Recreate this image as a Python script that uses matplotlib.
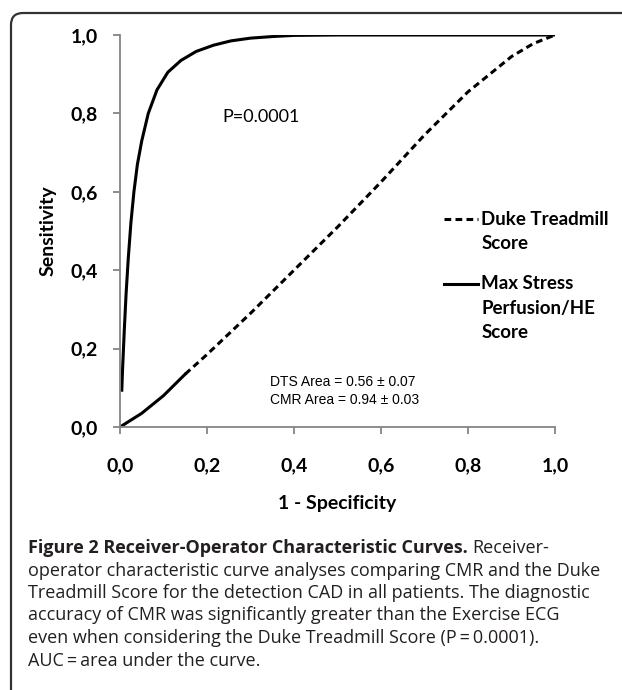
import matplotlib
matplotlib.use("Agg")
import matplotlib.pyplot as plt
from matplotlib.patches import FancyBboxPatch
from matplotlib.lines import Line2D

# CMR (Max Stress Perfusion/HE Score) ROC curve
cmr_fpr = [0.004, 0.006, 0.010, 0.014, 0.019, 0.025, 0.032, 0.040, 0.050, 0.065,
           0.085, 0.110, 0.140, 0.175, 0.215, 0.255, 0.30, 0.35, 0.40, 0.50, 0.60, 0.80, 1.00]
cmr_tpr = [0.09, 0.15, 0.25, 0.34, 0.43, 0.52, 0.60, 0.67, 0.73, 0.80,
           0.86, 0.905, 0.935, 0.958, 0.974, 0.985, 0.992, 0.996, 0.999, 1.0, 1.0, 1.0, 1.0]

# Duke Treadmill Score ROC curve
dts_fpr = [0, 0.05, 0.1, 0.15, 0.2, 0.3, 0.4, 0.5, 0.6, 0.7, 0.8, 0.9, 0.95, 1.0]
dts_tpr = [0, 0.035, 0.08, 0.135, 0.185, 0.29, 0.40, 0.51, 0.625, 0.745, 0.855, 0.945, 0.978, 1.0]
dts_solid_until = 3  # first part of the DTS line is drawn solid in the original

ticks = [0.0, 0.2, 0.4, 0.6, 0.8, 1.0]
tick_labels = ["0,0", "0,2", "0,4", "0,6", "0,8", "1,0"]

W, H = 622, 690
fig = plt.figure(figsize=(W / 100, H / 100), dpi=100)
ax = fig.add_axes([120 / W, 1 - 427 / H, 435 / W, 392 / H])

ax.plot(cmr_fpr, cmr_tpr, color="black", lw=2.2, solid_capstyle="butt")
ax.plot(dts_fpr[:dts_solid_until + 1], dts_tpr[:dts_solid_until + 1], color="black", lw=2.2)
ax.plot(dts_fpr[dts_solid_until:], dts_tpr[dts_solid_until:], color="black", lw=2.2,
        ls=(0, (2.2, 1.4)))

ax.set_xlim(0, 1)
ax.set_ylim(0, 1)
ax.set_xticks(ticks)
ax.set_yticks(ticks)
tfont = dict(family="Lato", weight="bold", size=14)
ax.set_xticklabels(tick_labels, fontdict=tfont)
ax.set_yticklabels(tick_labels, fontdict=tfont)
for s in ["top", "right"]:
    ax.spines[s].set_visible(False)
for s in ["left", "bottom"]:
    ax.spines[s].set_color("#858585")
    ax.spines[s].set_linewidth(1.3)
ax.tick_params(axis="both", direction="out", length=5, width=1.3, color="#858585")
ax.tick_params(axis="x", pad=17)
ax.tick_params(axis="y", pad=11)
ax.set_xlabel("1 - Specificity", family="Lato", weight="bold", size=14, labelpad=15)
ax.set_ylabel("Sensitivity", family="Lato", weight="bold", size=14, labelpad=10)

ax.text(0.235, 0.79, "P=0.0001", family="Lato", size=13, transform=ax.transAxes,
        va="center", ha="left")
ax.text(0.345, 0.115, "DTS Area = 0.56 \u00b1 0.07", family="Liberation Sans", size=10,
        transform=ax.transAxes, va="center", ha="left")
ax.text(0.345, 0.068, "CMR Area = 0.94 \u00b1 0.03", family="Liberation Sans", size=10,
        transform=ax.transAxes, va="center", ha="left")

# legend drawn by hand so the line sits on the first text line
lfont = dict(family="Lato", weight="bold", size=13.5)
leg_step = 24.5 / 392
leg = [(0.53, (0, (2.2, 1.4)), ["Duke Treadmill", "Score"]),
       (0.365, "-", ["Max Stress", "Perfusion/HE", "Score"])]
for ly, lstyle, ltxt in leg:
    ax.add_line(Line2D([0.745, 0.822], [ly, ly], transform=ax.transAxes, color="black",
                       lw=2.2, ls=lstyle, clip_on=False))
    for i, t in enumerate(ltxt):
        ax.text(0.83, ly - i * leg_step, t, transform=ax.transAxes, va="center", ha="left",
                **lfont)

# rounded frame (cut off at right and bottom as in the source)
frame = FancyBboxPatch((11, -60), 700, H - 13 + 60, boxstyle="round,pad=0,rounding_size=12",
                       transform=None, fill=False, ec="#333333", lw=1.6)
fig.add_artist(frame)

# caption
cfont = "Open Sans"
csize = 13
ccol = "#231f20"
cap_x = 28 / W
cap_y0 = 1 - 548 / H
line_h = 22.5 / H
bold = fig.text(cap_x, cap_y0, "Figure 2 Receiver-Operator Characteristic Curves.",
                family=cfont, weight="bold", size=csize, va="center", ha="left", color=ccol)
fig.canvas.draw()
bb = bold.get_window_extent(fig.canvas.get_renderer())
fig.text(bb.x1 / W + 5 / W, cap_y0, "Receiver-", family=cfont, size=csize, va="center",
         ha="left", color=ccol)
cap_lines = [
    "operator characteristic curve analyses comparing CMR and the Duke",
    "Treadmill Score for the detection CAD in all patients. The diagnostic",
    "accuracy of CMR was significantly greater than the Exercise ECG",
    "even when considering the Duke Treadmill Score (P\u2009=\u20090.0001).",
    "AUC\u2009=\u2009area under the curve.",
]
for i, t in enumerate(cap_lines):
    fig.text(cap_x, cap_y0 - (i + 1) * line_h, t, family=cfont, size=csize, va="center",
             ha="left", color=ccol)

fig.savefig("out.png", dpi=100)
